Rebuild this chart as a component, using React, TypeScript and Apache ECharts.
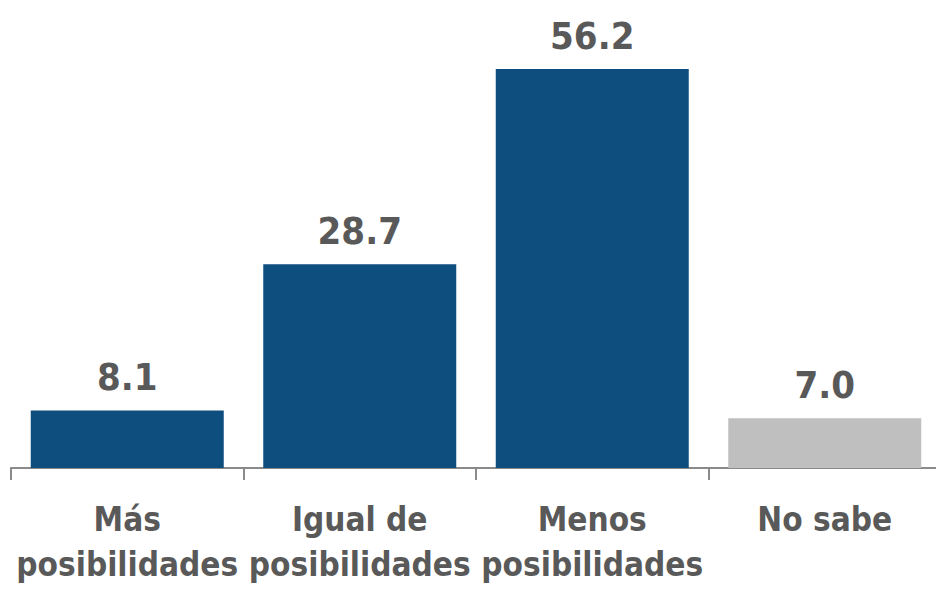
import React, { useEffect, useRef } from "react";
import * as echarts from "echarts";

const categories = ["Más\nposibilidades", "Igual de\nposibilidades", "Menos\nposibilidades", "No sabe"];
const values = [8.1, 28.7, 56.2, 7.0];
const barColors = ["#0E4E7F", "#0E4E7F", "#0E4E7F", "#BFBFBF"];

const CANDIDATES = [
  "Liberation Sans Narrow",
  "Arial Narrow",
  "DejaVu Sans Condensed",
  "Roboto Condensed",
  "Liberation Sans",
  "Arial",
];

function pickFont() {
  const ctx = document.createElement("canvas").getContext("2d")!;
  const sample = "posibilidades 56.2 Más";
  const measure = (f: string) => {
    ctx.font = f;
    return ctx.measureText(sample).width;
  };
  for (const fam of CANDIDATES) {
    const a = measure(`bold 42px '${fam}', monospace`);
    const b = measure(`bold 42px '${fam}', serif`);
    const m = measure("bold 42px monospace");
    const s = measure("bold 42px serif");
    if (a === b && (a !== m || b !== s)) {
      ctx.font = `bold 42px '${fam}'`;
      const w = ctx.measureText("posibilidades").width;
      ctx.font = `bold 44px '${fam}'`;
      const wv = ctx.measureText("56.2").width;
      return {
        family: `'${fam}', sans-serif`,
        axisSize: Math.min(42, (42 * 222) / w),
        valueSize: Math.min(44, Math.max(38, (44 * 78) / wv)),
      };
    }
  }
  return { family: "sans-serif", axisSize: 34, valueSize: 40 };
}

export default function App() {
  const ref = useRef<HTMLDivElement>(null);
  useEffect(() => {
    document.body.style.margin = "0";
    const font = pickFont();
    const chart = echarts.init(ref.current!, null, { renderer: "svg" });
    chart.setOption({
      animation: false,
      grid: { left: 11, top: 42, width: 930, bottom: 122, containLabel: false, outerBoundsMode: "none" },
      xAxis: {
        type: "category",
        data: categories,
        boundaryGap: true,
        axisLine: { show: true, lineStyle: { color: "#8A8A8A", width: 2 } },
        axisTick: { show: true, length: 12, alignWithLabel: false, lineStyle: { color: "#8A8A8A", width: 2 } },
        axisLabel: {
          interval: 0,
          margin: 29,
          color: "#595959",
          fontFamily: font.family,
          fontWeight: "bold",
          fontSize: font.axisSize,
          lineHeight: 45,
          hideOverlap: false,
        },
      },
      yAxis: { type: "value", min: 0, max: 60, show: false, splitLine: { show: false } },
      series: [
        {
          type: "bar",
          barWidth: 193,
          data: values.map((v, i) => ({ value: v, itemStyle: { color: barColors[i] } })),
          label: {
            show: true,
            position: "top",
            distance: 14,
            color: "#595959",
            fontFamily: font.family,
            fontWeight: "bold",
            fontSize: font.valueSize,
            formatter: (p: any) => Number(p.value).toFixed(1),
          },
        },
      ],
    });
    return () => chart.dispose();
  }, []);
  return <div ref={ref} style={{ position: "absolute", left: 0, top: 0, width: 936, height: 590 }} />;
}
